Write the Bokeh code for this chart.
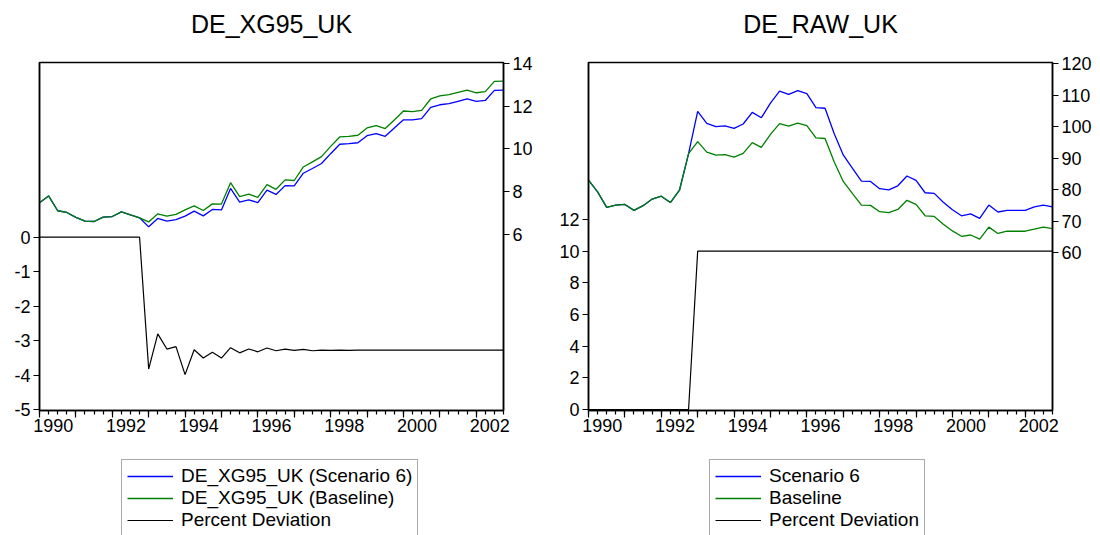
from bokeh.plotting import figure
from bokeh.models import Range1d, LinearAxis, FixedTicker, Legend, LegendItem
from bokeh.layouts import row, column
from bokeh.embed import file_html
from bokeh.resources import INLINE

# ---------------- data ----------------
quarters = [f"{y}Q{q}" for y in range(1990, 2003) for q in range(1, 5)]
t = [int(s[:4]) + (int(s[5]) - 1) / 4 for s in quarters]

year_ticks = list(range(1990, 2003))
label_years = ["1990", "1992", "1994", "1996", "1998", "2000", "2002"]

xg95_baseline = [7.49, 7.81, 7.12, 7.04, 6.81, 6.64, 6.62, 6.82, 6.85, 7.07, 6.93, 6.79,
                 6.60, 6.98, 6.87, 6.95, 7.16, 7.35, 7.13, 7.44, 7.43, 8.43,
                 7.78, 7.89, 7.74, 8.34, 8.12, 8.56, 8.53, 9.16, 9.40, 9.64,
                 10.12, 10.56, 10.59, 10.64, 10.98, 11.09, 10.95, 11.35, 11.77, 11.74,
                 11.80, 12.33, 12.47, 12.53, 12.64, 12.74, 12.62, 12.67, 13.15, 13.16]
xg95_scenario = [7.49, 7.81, 7.12, 7.04, 6.81, 6.64, 6.62, 6.82, 6.85, 7.07, 6.93, 6.79,
                 6.37, 6.76, 6.64, 6.71, 6.87, 7.10, 6.88, 7.18, 7.16, 8.16,
                 7.52, 7.63, 7.50, 8.08, 7.88, 8.29, 8.28, 8.87, 9.09, 9.32,
                 9.78, 10.22, 10.25, 10.29, 10.62, 10.71, 10.59, 10.98, 11.36, 11.36,
                 11.41, 11.94, 12.06, 12.11, 12.22, 12.33, 12.22, 12.26, 12.73, 12.74]
xg95_pct = [0, 0, 0, 0, 0, 0, 0, 0, 0, 0, 0, 0,
            -3.82, -2.80, -3.24, -3.17, -3.98, -3.26, -3.50, -3.33, -3.50, -3.20,
            -3.35, -3.24, -3.32, -3.21, -3.29, -3.24, -3.28, -3.25, -3.29, -3.27,
            -3.28, -3.27, -3.28, -3.27, -3.27, -3.27, -3.27, -3.27, -3.27, -3.27,
            -3.27, -3.27, -3.27, -3.27, -3.27, -3.27, -3.27, -3.27, -3.27, -3.27]

raw_baseline = [83.1, 79.4, 74.45, 75.2, 75.4, 73.5, 75.0, 77.1, 78.0, 76.0, 79.9, 91.5,
                95.3, 92.0, 91.0, 91.2, 90.4, 91.6, 95.0, 93.5, 97.6, 101.0,
                100.2, 101.2, 100.4, 96.5, 96.3, 88.9, 82.7, 78.9, 75.2, 75.1,
                73.1, 72.8, 73.8, 76.7, 75.4, 71.8, 71.6, 69.1, 67.0, 65.3,
                65.7, 64.4, 68.2, 66.2, 66.9, 66.9, 66.9, 67.6, 68.2, 67.7]
raw_scenario = [83.1, 79.4, 74.45, 75.2, 75.4, 73.5, 75.0, 77.1, 78.0, 76.0, 79.9, 91.5,
                104.9, 101.1, 100.1, 100.3, 99.5, 100.9, 104.6, 102.9, 107.5, 111.3,
                110.3, 111.5, 110.5, 106.1, 105.9, 97.9, 91.1, 86.9, 82.8, 82.7,
                80.4, 80.0, 81.3, 84.4, 83.0, 79.1, 78.9, 76.1, 73.7, 71.8,
                72.4, 71.0, 75.2, 73.0, 73.5, 73.5, 73.5, 74.6, 75.2, 74.6]
raw_pct = [0, 0, 0, 0, 0, 0, 0, 0, 0, 0, 0, 0,
           10, 10, 10, 10, 10, 10, 10, 10, 10, 10,
           10, 10, 10, 10, 10, 10, 10, 10, 10, 10,
           10, 10, 10, 10, 10, 10, 10, 10, 10, 10,
           10, 10, 10, 10, 10, 10, 10, 10, 10, 10]

xg95_pct_ticks = [-5, -4, -3, -2, -1, 0]
xg95_lvl_ticks = [6, 8, 10, 12, 14]
raw_pct_ticks = [0, 2, 4, 6, 8, 10, 12]
raw_lvl_ticks = [60, 70, 80, 90, 100, 110, 120]

xg95_names = ["DE_XG95_UK (Scenario 6)", "DE_XG95_UK (Baseline)", "Percent Deviation"]
raw_names = ["Scenario 6", "Baseline", "Percent Deviation"]

FONT = "Liberation Sans"
SCEN_COLOR = "#0000FF"
BASE_COLOR = "#008000"
PCT_COLOR = "black"


def style_axis(ax):
    ax.axis_line_color = "black"
    ax.axis_line_width = 1.5
    ax.major_tick_line_color = "black"
    ax.major_tick_line_width = 1.2
    ax.minor_tick_line_color = "black"
    ax.minor_tick_line_width = 1.2
    ax.major_label_text_font = FONT
    ax.major_label_text_font_size = "18px"
    ax.major_label_text_color = "black"


def make_title(width, text):
    f = figure(width=width, height=50, output_backend="svg", toolbar_location=None,
               x_range=Range1d(0, 1), y_range=Range1d(0, 1),
               x_axis_location=None, y_axis_location=None,
               min_border_left=0, min_border_right=0, min_border_top=0, min_border_bottom=0)
    f.grid.visible = False
    f.outline_line_color = None
    f.title.text = text
    f.title.align = "center"
    f.title.text_font = FONT
    f.title.text_font_size = "25px"
    f.title.text_font_style = "normal"
    f.title.text_color = "black"
    f.title.standoff = 15
    return f


def make_panel(width, bl, br, pct_range, lvl_range, pct_ticks, lvl_ticks,
               scen, base, pct):
    p = figure(width=width, height=409, output_backend="svg", toolbar_location=None,
               x_range=Range1d(1990, 2002.75), y_range=Range1d(*pct_range),
               x_axis_location=None, y_axis_location=None,
               min_border_left=bl, min_border_right=br,
               min_border_top=12, min_border_bottom=49)
    p.extra_y_ranges = {"lvl": Range1d(*lvl_range)}
    p.grid.visible = False
    p.outline_line_color = "black"
    p.outline_line_width = 1.5
    p.background_fill_color = "white"
    p.border_fill_color = "white"

    la = LinearAxis(ticker=FixedTicker(ticks=pct_ticks, minor_ticks=[]))
    style_axis(la)
    la.major_tick_out = 6
    la.major_tick_in = 0
    la.major_label_standoff = 3
    la.major_label_overrides = {v: str(v) for v in pct_ticks}
    p.add_layout(la, "left")

    ra = LinearAxis(y_range_name="lvl", ticker=FixedTicker(ticks=lvl_ticks, minor_ticks=[]))
    style_axis(ra)
    ra.major_tick_out = 6
    ra.major_tick_in = 0
    ra.major_label_standoff = 3
    p.add_layout(ra, "right")

    xa = LinearAxis(ticker=FixedTicker(ticks=year_ticks, minor_ticks=t))
    style_axis(xa)
    xa.major_tick_out = 7
    xa.major_tick_in = 0
    xa.minor_tick_out = 4
    xa.minor_tick_in = 0
    xa.major_label_standoff = 0
    xa.major_label_overrides = {y: "" for y in year_ticks}
    p.add_layout(xa, "below")

    lab_pos = [int(y) + 0.375 for y in label_years]
    xl = LinearAxis(ticker=FixedTicker(ticks=lab_pos, minor_ticks=[]))
    style_axis(xl)
    xl.axis_line_color = None
    xl.major_tick_out = 0
    xl.major_tick_in = 0
    xl.major_label_standoff = 1
    xl.major_label_overrides = {pos: lab for pos, lab in zip(lab_pos, label_years)}
    p.add_layout(xl, "below")

    p.line(t, pct, color=PCT_COLOR, line_width=1.2)
    p.line(t, scen, color=SCEN_COLOR, line_width=1.3, y_range_name="lvl")
    p.line(t, base, color=BASE_COLOR, line_width=1.3, y_range_name="lvl")
    return p


def make_legend(width, names, legend_x):
    f = figure(width=width, height=76, output_backend="svg", toolbar_location=None,
               x_range=Range1d(0, 1), y_range=Range1d(0, 1),
               x_axis_location=None, y_axis_location=None,
               min_border_left=0, min_border_right=0, min_border_top=0, min_border_bottom=0)
    f.grid.visible = False
    f.outline_line_color = None
    # off-screen key glyphs (legend swatches only)
    rs = f.line([-2, -1], [-2, -1], color=SCEN_COLOR, line_width=1.3)
    rb = f.line([-2, -1], [-2, -1], color=BASE_COLOR, line_width=1.3)
    rp = f.line([-2, -1], [-2, -1], color=PCT_COLOR, line_width=1.2)
    legend = Legend(items=[LegendItem(label=names[0], renderers=[rs]),
                           LegendItem(label=names[1], renderers=[rb]),
                           LegendItem(label=names[2], renderers=[rp])],
                    location=(legend_x, -2))
    legend.label_text_font = FONT
    legend.label_text_font_size = "19px"
    legend.label_text_color = "black"
    legend.glyph_width = 46
    legend.glyph_height = 22
    legend.label_height = 22
    legend.label_standoff = 8
    legend.padding = 5
    legend.spacing = 0
    legend.margin = 0
    legend.border_line_color = "#555555"
    legend.border_line_width = 1
    legend.background_fill_alpha = 1
    f.add_layout(legend, "center")
    return f


t1 = make_title(548, "DE_XG95_UK")
t2 = make_title(548, "DE_RAW_UK")
p1 = make_panel(548, 39, 45, (-5.02, 5.06), (-2.19, 14.03),
                xg95_pct_ticks, xg95_lvl_ticks, xg95_scenario, xg95_baseline, xg95_pct)
p2 = make_panel(548, 40, 44, (-0.06, 21.92), (10.06, 120.4),
                raw_pct_ticks, raw_lvl_ticks, raw_scenario, raw_baseline, raw_pct)
l1 = make_legend(548, xg95_names, 82)
l2 = make_legend(548, raw_names, 121)

layout = row(column(t1, p1, l1), column(t2, p2, l2))
open("out.html", "w").write(file_html(layout, INLINE))
